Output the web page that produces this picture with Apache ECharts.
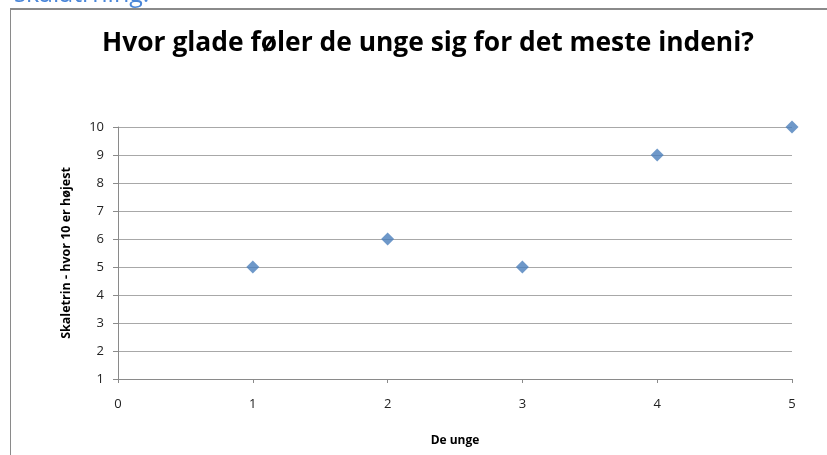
<!DOCTYPE html>
<html>
<head>
<meta charset="utf-8">
<script src="https://cdn.jsdelivr.net/npm/echarts@6/dist/echarts.min.js"></script>
<style>
  html, body { margin: 0; padding: 0; background: #fff; }
  #chart { width: 827px; height: 455px; }
</style>
</head>
<body>
<div id="chart"></div>
<script>
// Respondents (x) and their self-rated happiness on the 1–10 scale (y)
const respondents = [1, 2, 3, 4, 5];
const happiness = [5, 6, 5, 9, 10];
const xTicks = [0, 1, 2, 3, 4, 5];
const yTicks = [1, 2, 3, 4, 5, 6, 7, 8, 9, 10];

const points = respondents.map((r, i) => [r, happiness[i]]);

const chart = echarts.init(document.getElementById('chart'), null, { renderer: 'canvas' });
const labelFont = '"Open Sans", "Liberation Sans", sans-serif';

chart.setOption({
  animation: false,
  backgroundColor: '#ffffff',
  title: {
    text: 'Hvor glade føler de unge sig for det meste indeni?',
    left: 97,
    top: 25,
    textStyle: { fontFamily: labelFont, fontWeight: 'bold', fontSize: 26.4, color: '#000' }
  },
  graphic: [
    { type: 'text', left: 14, top: -18,
      style: { text: 'skalatrning:', fontSize: 25, fontFamily: labelFont, fill: '#4a86d8' } },
    { type: 'line', shape: { x1: 10, y1: 9, x2: 827, y2: 9 },
      style: { stroke: '#8a8a8a', lineWidth: 2 } },
    { type: 'line', shape: { x1: 10.5, y1: 9, x2: 10.5, y2: 455 },
      style: { stroke: '#8a8a8a', lineWidth: 1 } }
  ],
  grid: { left: 118, right: 35, top: 127, bottom: 76, containLabel: false },
  xAxis: {
    type: 'value',
    min: xTicks[0],
    max: xTicks[xTicks.length - 1],
    interval: 1,
    name: 'De unge',
    nameLocation: 'middle',
    nameGap: 56,
    nameTextStyle: { fontFamily: labelFont, fontWeight: 'bold', fontSize: 12, color: '#000' },
    axisLine: { show: true, lineStyle: { color: '#8a8a8a', width: 1 } },
    axisTick: { show: true, length: 4, lineStyle: { color: '#8a8a8a' } },
    axisLabel: { margin: 19, fontFamily: labelFont, fontSize: 13, color: '#222' },
    splitLine: { show: false }
  },
  yAxis: {
    type: 'value',
    min: yTicks[0],
    max: yTicks[yTicks.length - 1],
    interval: 1,
    name: 'Skaletrin - hvor 10 er højest',
    nameLocation: 'middle',
    nameRotate: 90,
    nameGap: 45,
    nameTextStyle: { fontFamily: labelFont, fontWeight: 'bold', fontSize: 12.5, color: '#000' },
    axisLine: { show: true, lineStyle: { color: '#8a8a8a', width: 1 } },
    axisTick: { show: true, length: 5, lineStyle: { color: '#8a8a8a' } },
    axisLabel: { margin: 14, fontFamily: labelFont, fontSize: 13, color: '#222' },
    splitLine: { show: true, lineStyle: { color: '#a8a8a8', width: 1 } }
  },
  series: [{
    type: 'scatter',
    data: points,
    symbol: 'diamond',
    symbolSize: 13,
    itemStyle: { color: '#4a7ebb' },
    clip: false
  }]
});
</script>
</body>
</html>
